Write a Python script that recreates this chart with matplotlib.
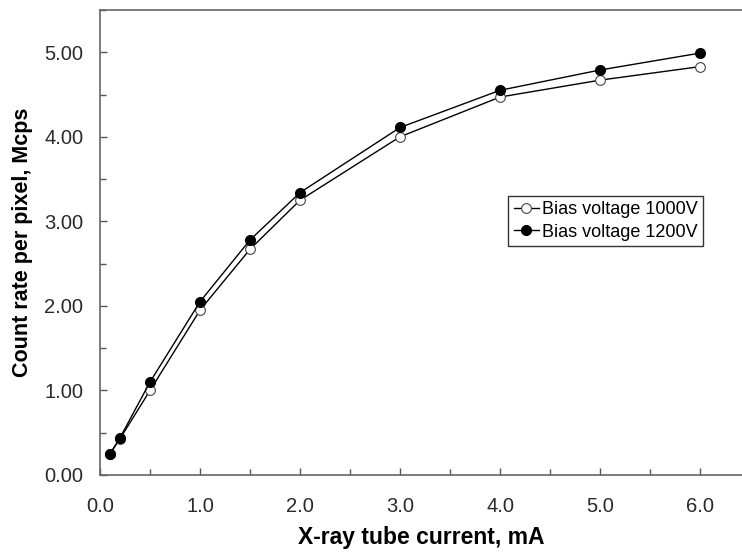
import matplotlib
matplotlib.use("Agg")
import matplotlib.pyplot as plt
from matplotlib.ticker import MultipleLocator

plt.rcParams['font.family'] = ['Liberation Sans', 'DejaVu Sans']

current = [0.1, 0.2, 0.5, 1.0, 1.5, 2.0, 3.0, 4.0, 5.0, 6.0]
rate_1000 = [0.25, 0.43, 1.00, 1.95, 2.67, 3.25, 4.00, 4.47, 4.67, 4.83]
rate_1200 = [0.25, 0.44, 1.10, 2.05, 2.78, 3.34, 4.11, 4.55, 4.79, 4.99]

fig = plt.figure(figsize=(7.42, 5.54), dpi=100)
ax = fig.add_axes([0.1348, 0.1426, 0.8652, 0.8394])

ax.plot(current, rate_1000, color='black', lw=1.0, marker='o', ms=7,
        mfc='white', mec='#444444', mew=0.8, label='Bias voltage 1000V')
ax.plot(current, rate_1200, color='black', lw=1.0, marker='o', ms=7,
        mfc='black', mec='black', label='Bias voltage 1200V')

ax.set_xlim(0, 6.42)
ax.set_ylim(0, 5.5)
ax.xaxis.set_major_locator(MultipleLocator(1.0))
ax.xaxis.set_minor_locator(MultipleLocator(0.5))
ax.yaxis.set_major_locator(MultipleLocator(1.0))
ax.yaxis.set_minor_locator(MultipleLocator(0.5))
ax.xaxis.set_major_formatter(plt.FuncFormatter(lambda v, p: f"{v:.1f}"))
ax.yaxis.set_major_formatter(plt.FuncFormatter(lambda v, p: f"{v:.2f}"))

ax.tick_params(which='both', direction='in', colors='#555555', labelcolor='#2a2a2a',
               labelsize=14.5, width=1.0)
ax.tick_params(which='major', length=5)
ax.tick_params(which='minor', length=4)
ax.tick_params(axis='x', which='major', pad=16)
ax.tick_params(axis='y', which='major', pad=12)
for s in ['left', 'bottom', 'top']:
    ax.spines[s].set_color('#666666')
    ax.spines[s].set_linewidth(1.2)
ax.spines['right'].set_visible(False)

ax.set_xlabel('X-ray tube current, mA', fontsize=16.5, fontweight='bold', labelpad=7)
ax.set_ylabel('Count rate per pixel, Mcps', fontsize=15.5, fontweight='bold', labelpad=8)

leg = ax.legend(loc='upper left', bbox_to_anchor=(0.636, 0.6), fontsize=13,
                frameon=True, fancybox=False, edgecolor='black', handlelength=1.4,
                handletextpad=0.15, borderpad=0.3, labelspacing=0.3, borderaxespad=0)
leg.get_frame().set_linewidth(1.0)

fig.savefig('out.png', dpi=100)
